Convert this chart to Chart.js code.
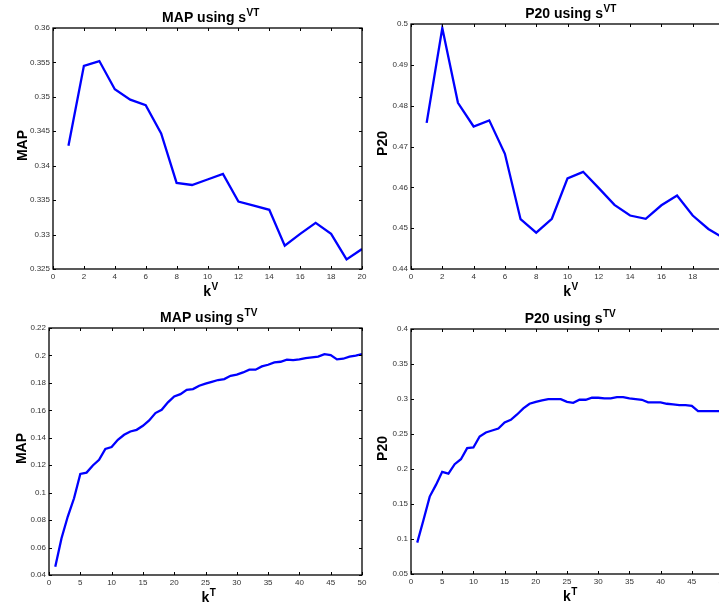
<!DOCTYPE html>
<html>
<head>
<meta charset="utf-8">
<script src="https://cdn.jsdelivr.net/npm/chart.js@4.4.0/dist/chart.umd.min.js"></script>
<style>
html, body { margin:0; padding:0; background:#fff; overflow:hidden; width:719px; height:606px; }
canvas { position:absolute; left:0; top:0; }
</style>
</head>
<body>
<canvas id="c1" width="740" height="606"></canvas>
<canvas id="c2" width="740" height="606"></canvas>
<canvas id="c3" width="740" height="606"></canvas>
<canvas id="c4" width="740" height="606"></canvas>
<script>
// values
var kV = [1,2,3,4,5,6,7,8,9,10,11,12,13,14,15,16,17,18,19,20];
var mapVT = [0.3429,0.3545,0.3552,0.3511,0.3496,0.3488,0.3447,0.3375,0.3372,0.3380,
	0.3388,0.3348,0.3342,0.3336,0.3284,0.3301,0.3317,0.3301,0.3264,0.3279];
var p20VT = [0.4758,0.4990,0.4807,0.4749,0.4764,0.4682,0.4522,0.4489,0.4523,0.4622,
	0.4638,0.4598,0.4557,0.4531,0.4523,0.4556,0.4580,0.4531,0.4498,0.4475];

var kT = [1,2,3,4,5,6,7,8,9,10,11,12,13,14,15,16,17,18,19,20,21,22,23,24,25,
	26,27,28,29,30,31,32,33,34,35,36,37,38,39,40,41,42,43,44,45,46,47,48,49,50];
var mapTV = [0.0461,0.0668,0.0826,0.0959,0.1137,0.1146,0.1198,0.1239,0.1319,0.1332,
	0.1385,0.1422,0.1446,0.1458,0.1487,0.1526,0.1580,0.1604,0.1658,0.1701,
	0.1718,0.1750,0.1755,0.1779,0.1794,0.1808,0.1821,0.1828,0.1852,0.1860,
	0.1876,0.1896,0.1896,0.1920,0.1932,0.1950,0.1954,0.1969,0.1966,0.1971,
	0.1981,0.1986,0.1991,0.2010,0.2003,0.1971,0.1976,0.1991,0.1998,0.2010];
var p20TV = [0.0948,0.1272,0.1606,0.1773,0.1959,0.1935,0.2069,0.2140,0.2298,0.2307,
	0.2464,0.2522,0.2550,0.2579,0.2665,0.2703,0.2779,0.2865,0.2932,0.2960,
	0.2979,0.2998,0.2998,0.2998,0.2960,0.2946,0.2989,0.2989,0.3018,0.3018,
	0.3008,0.3008,0.3027,0.3027,0.3008,0.2998,0.2989,0.2951,0.2951,0.2951,
	0.2932,0.2922,0.2913,0.2913,0.2903,0.2827,0.2827,0.2827,0.2827,0.2827];

// tick labels
var xTicksV = [0,2,4,6,8,10,12,14,16,18,20];
var xTicksT = [0,5,10,15,20,25,30,35,40,45,50];
var yTicksMapVT = [0.325,0.33,0.335,0.34,0.345,0.35,0.355,0.36];
var yTicksP20VT = [0.44,0.45,0.46,0.47,0.48,0.49,0.5];
var yTicksMapTV = [0.04,0.06,0.08,0.1,0.12,0.14,0.16,0.18,0.2,0.22];
var yTicksP20TV = [0.05,0.1,0.15,0.2,0.25,0.3,0.35,0.4];

var FONT = "'Liberation Sans', Arial, Helvetica, sans-serif";

var drawSup = function(ctx, base, sup, cx, y, size, supSize)
{
	ctx.font = 'bold ' + size + 'px ' + FONT;
	var wb = ctx.measureText(base).width;
	ctx.font = 'bold ' + supSize + 'px ' + FONT;
	var ws = ctx.measureText(sup).width;
	var x0 = cx - (wb + ws) / 2;
	ctx.textAlign = 'left';
	ctx.textBaseline = 'alphabetic';
	ctx.font = 'bold ' + size + 'px ' + FONT;
	ctx.fillText(base, x0, y);
	ctx.font = 'bold ' + supSize + 'px ' + FONT;
	ctx.fillText(sup, x0 + wb + 0.5, y - size * 0.46);
}

// box, inward ticks, titles
var framePlugin = {
	id: 'frame',
	afterDraw: function(chart)
	{
		var ctx = chart.ctx, a = chart.chartArea, o = chart.options.plugins.frame;
		var sx = chart.scales.x, sy = chart.scales.y;
		ctx.save();
		ctx.strokeStyle = '#000';
		ctx.lineWidth = 1;
		ctx.beginPath();
		sx.ticks.forEach(function(t){
			var px = Math.round(sx.getPixelForValue(t.value)) + 0.5;
			ctx.moveTo(px, a.bottom); ctx.lineTo(px, a.bottom - 3);
			ctx.moveTo(px, a.top); ctx.lineTo(px, a.top + 3);
		});
		sy.ticks.forEach(function(t){
			var py = Math.round(sy.getPixelForValue(t.value)) + 0.5;
			ctx.moveTo(a.left, py); ctx.lineTo(a.left + 3, py);
			ctx.moveTo(a.right, py); ctx.lineTo(a.right - 3, py);
		});
		ctx.stroke();
		ctx.lineWidth = 1.3;
		ctx.strokeRect(a.left, a.top, a.right - a.left, a.bottom - a.top);

		ctx.fillStyle = '#000';
		var cx = (a.left + a.right) / 2 + 3;
		drawSup(ctx, o.title, o.titleSup, cx, a.top - 6, 14, 10);
		drawSup(ctx, 'k', o.xSup, cx, a.bottom + 27, 14, 10);

		ctx.translate(o.yLabelX, (a.top + a.bottom) / 2 - 3);
		ctx.rotate(-Math.PI / 2);
		ctx.font = 'bold 14px ' + FONT;
		ctx.textAlign = 'center';
		ctx.textBaseline = 'alphabetic';
		ctx.fillText(o.yLabel, 0, 0);
		ctx.restore();
	}
};

var tickFmt = function(v){ return String(+Number(v).toFixed(4)); };

var makeChart = function(id, box, xs, ys, xTicks, yTicks, labels)
{
	var pts = xs.map(function(x, i){ return {x: x, y: ys[i]}; });
	return new Chart(document.getElementById(id), {
		type: 'line',
		data: {
			datasets: [{
				data: pts,
				borderColor: '#0000ff',
				borderWidth: 2.3,
				pointRadius: 0,
				tension: 0,
				fill: false
			}]
		},
		plugins: [framePlugin],
		options: {
			responsive: false,
			animation: false,
			layout: { padding: { left: 0, top: box.T, right: 740 - box.R, bottom: 0 } },
			plugins: {
				legend: { display: false },
				tooltip: { enabled: false },
				frame: labels
			},
			scales: {
				x: {
					type: 'linear',
					min: xTicks[0],
					max: xTicks[xTicks.length - 1],
					grid: { display: false, drawTicks: false, tickLength: 0 },
					border: { display: false },
					afterBuildTicks: function(s){ s.ticks = xTicks.map(function(v){ return {value: v}; }); },
					afterFit: function(s){ s.height = 606 - box.B; },
					ticks: { padding: 3, autoSkip: false, maxRotation: 0, color: '#333', font: { family: FONT, size: 8 }, callback: tickFmt }
				},
				y: {
					min: yTicks[0],
					max: yTicks[yTicks.length - 1],
					grid: { display: false, drawTicks: false, tickLength: 0 },
					border: { display: false },
					afterBuildTicks: function(s){ s.ticks = yTicks.map(function(v){ return {value: v}; }); },
					afterFit: function(s){ s.width = box.L; },
					ticks: { padding: 3, autoSkip: false, color: '#333', font: { family: FONT, size: 8 }, callback: tickFmt }
				}
			}
		}
	});
}

makeChart('c1', {L: 53, T: 28, R: 362, B: 269}, kV, mapVT, xTicksV, yTicksMapVT,
	{title: 'MAP using s', titleSup: 'VT', xSup: 'V', yLabel: 'MAP', yLabelX: 26.5});
makeChart('c2', {L: 411, T: 24, R: 724, B: 269}, kV, p20VT, xTicksV, yTicksP20VT,
	{title: 'P20 using s', titleSup: 'VT', xSup: 'V', yLabel: 'P20', yLabelX: 387});
makeChart('c3', {L: 49, T: 328, R: 362, B: 575}, kT, mapTV, xTicksT, yTicksMapTV,
	{title: 'MAP using s', titleSup: 'TV', xSup: 'T', yLabel: 'MAP', yLabelX: 26});
makeChart('c4', {L: 411, T: 329, R: 723, B: 574}, kT, p20TV, xTicksT, yTicksP20TV,
	{title: 'P20 using s', titleSup: 'TV', xSup: 'T', yLabel: 'P20', yLabelX: 387});
</script>
</body>
</html>
